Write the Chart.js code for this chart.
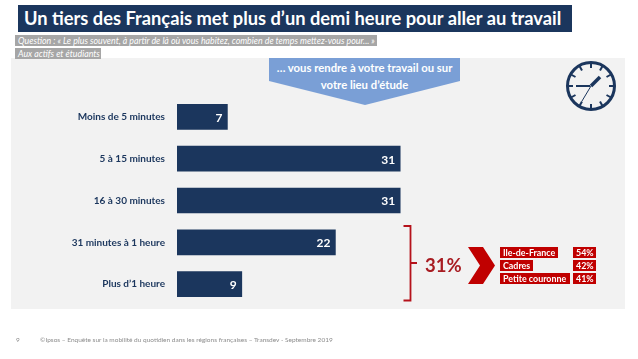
<!DOCTYPE html>
<html lang="fr">
<head>
<meta charset="utf-8">
<title>Temps de trajet</title>
<script src="https://cdn.jsdelivr.net/npm/chart.js@4"></script>
<style>
  html, body { margin: 0; padding: 0; background: #fff; }
  #page { position: relative; width: 638px; height: 359px; overflow: hidden; font-family: Lato, sans-serif; }
  #page > * { position: absolute; box-sizing: border-box; white-space: nowrap; }
  #panel { left: 11px; top: 58px; width: 614px; height: 251px; background: #f2f2f2; }
  #graph { left: 0; top: 0; }
  #title { left: 18px; top: 5px; width: 554px; height: 27px; background: #1b365d; color: #fff; font-weight: 700; font-size: 18.3px; line-height: 27px; padding-left: 6px; }
  .note { background: #a6a6a6; color: #fff; font-style: italic; font-size: 8.8px; height: 11px; line-height: 11px; padding-left: 3px; }
  #callout { left: 269px; top: 59px; width: 191px; color: #fff; font-weight: 700; font-size: 11.3px; line-height: 17px; text-align: center; }
  #total { left: 425px; top: 252px; color: #a81c22; font-weight: 700; font-size: 18.5px; line-height: 26px; }
  .tag { background: #c00000; color: #fff; font-weight: 700; font-size: 8.9px; height: 11px; line-height: 11px; padding-left: 3px; }
  #foot, #num { top: 335px; color: #8c8c8c; font-size: 6.5px; line-height: 9px; }
</style>
</head>
<body>
<div id="page">
  <div id="panel"></div>
  <svg style="left:0;top:0" width="638" height="359">
    <polygon points="269,58 460,58 460,81 365,105 269,81" fill="#7a9fd6"/>
    <!-- horloge -->
    <circle cx="591" cy="86" r="23.5" fill="none" stroke="#1b365d" stroke-width="3"/>
    <g stroke="#1b365d" stroke-width="2">
      <line x1="591" y1="63" x2="591" y2="68"/><line x1="591" y1="104" x2="591" y2="109"/>
      <line x1="568" y1="86" x2="573" y2="86"/><line x1="609" y1="86" x2="614" y2="86"/>
      <line x1="579.5" y1="66" x2="582" y2="70.5"/><line x1="602.5" y1="66" x2="600" y2="70.5"/>
      <line x1="571" y1="74.5" x2="575.500" y2="77"/><line x1="611" y1="74.5" x2="606.500" y2="77"/>
      <line x1="571" y1="97.500" x2="575.500" y2="95"/><line x1="611" y1="97.500" x2="606.500" y2="95"/>
      <line x1="579.500" y1="106" x2="582" y2="101.500"/><line x1="602.500" y1="106" x2="600" y2="101.500"/>
    </g>
    <line x1="576" y1="86" x2="590" y2="86" stroke="#1b365d" stroke-width="2"/>
    <line x1="591" y1="86" x2="600" y2="77" stroke="#1b365d" stroke-width="3.500"/>
    <line x1="591" y1="86" x2="582" y2="101" stroke="#1b365d" stroke-width="1"/>
    <!-- accolade et chevron -->
    <path d="M403.500 226 H410.500 V300.500 H403.500 M410.500 263 H417" fill="none" stroke="#b5121b" stroke-width="1.800"/>
    <polygon points="468,247 483,247 495,265.500 483,284 468,284 480,265.500" fill="#c00000"/>
  </svg>
  <div id="title">Un tiers des Français met plus d’un demi heure pour aller au travail</div>
  <div class="note" style="left:15px;top:35px;width:362px">Question : « Le plus souvent, à partir de là où vous habitez, combien de temps mettez-vous pour... »</div>
  <div class="note" style="left:15px;top:48px;width:86px">Aux actifs et étudiants</div>
  <div id="callout">… vous rendre à votre travail ou sur<br>votre lieu d’étude</div>
  <canvas id="graph" width="638" height="359"></canvas>
  <div id="total">31%</div>
  <div class="tag" style="left:500px;top:247px;width:58px">Ile-de-France</div>
  <div class="tag" style="left:500px;top:260px;width:33px">Cadres</div>
  <div class="tag" style="left:500px;top:273px;width:70px">Petite couronne</div>
  <div class="tag" style="left:573px;top:247px;width:23px">54%</div>
  <div class="tag" style="left:573px;top:260px;width:23px">42%</div>
  <div class="tag" style="left:573px;top:273px;width:23px">41%</div>
  <div id="num" style="left:16px">9</div>
  <div id="foot" style="left:40px">©Ipsos – Enquête sur la mobilité du quotidien dans les régions françaises – Transdev - Septembre 2019</div>
</div>
<script>
const categories = ['Moins de 5 minutes', '5 à 15 minutes', '16 à 30 minutes', '31 minutes à 1 heure', 'Plus d’1 heure']
const values = [7, 31, 31, 22, 9]

// valeurs en blanc, calées à droite dans chaque barre
const barLabels = {
    id: 'barLabels',
    afterDatasetsDraw(chart) {
        const c = chart.ctx
        c.save()
        c.fillStyle = '#fff'
        c.font = '700 12px Lato'
        c.textAlign = 'right'
        c.textBaseline = 'middle'
        chart.getDatasetMeta(0).data.forEach((bar, i) => {
            c.fillText(values[i], bar.x - 5, bar.y + 1)
        })
        c.restore()
    }
}

const graph = new Chart(document.getElementById('graph'), {
    type: 'bar',
    data: {
        labels: categories,
        datasets: [{
            data: values,
            backgroundColor: '#1b365d',
            barThickness: 25,
            borderSkipped: false
        }]
    },
    plugins: [barLabels],
    options: {
        indexAxis: 'y',
        responsive: false,
        animation: false,
        layout: { padding: { top: 96, bottom: 54, right: 29 } },
        plugins: { legend: { display: false }, tooltip: { enabled: false } },
        scales: {
            x: { display: false, min: 0, max: 60 },
            y: {
                afterFit(scale) { scale.width = 177 },
                border: { display: false },
                grid: { display: false, drawTicks: false },
                ticks: { color: '#1b365d', padding: 12, font: { family: 'Lato', size: 10, weight: 'bold' } }
            }
        }
    }
})
</script>
</body>
</html>
